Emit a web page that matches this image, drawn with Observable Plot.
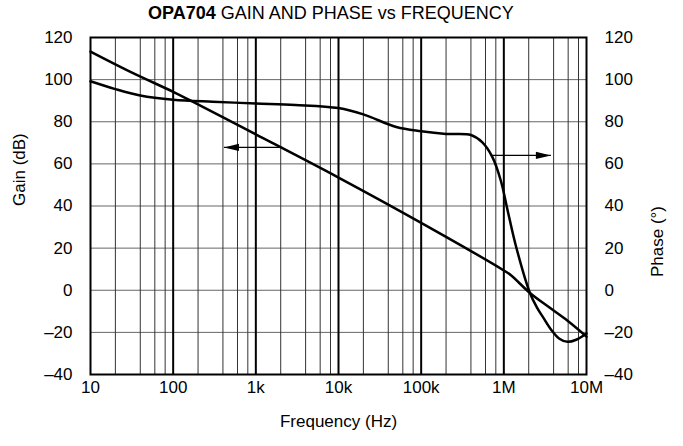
<!DOCTYPE html>
<html><head><meta charset="utf-8">
<script src="https://cdn.jsdelivr.net/npm/d3@7"></script>
<script src="https://cdn.jsdelivr.net/npm/@observablehq/plot@0.6"></script>
<style>
body{margin:0;background:#fff;font-family:"Liberation Sans",Arial,Helvetica,sans-serif;}
#title{height:24px;padding-top:1px;line-height:24px;font-size:18px;text-align:center;width:662px;color:#000;}
#chart svg{display:block;}
</style></head><body>
<div id="title"><b>OPA704</b> GAIN AND PHASE vs FREQUENCY</div>
<div id="chart"></div>
<script>
// Tick positions and labels
const decades = [10, 100, 1e3, 1e4, 1e5, 1e6, 1e7];
const decadeLabels = ["10", "100", "1k", "10k", "100k", "1M", "10M"];
const minorSteps = [2, 4, 6, 8];
const yTicks = [-40, -20, 0, 20, 40, 60, 80, 100, 120];

// Gain curve (dB)
const gainFreq = [10, 30, 100, 163, 1e3, 1e4, 1e5, 1e6, 1.22e6, 2.07e6, 3.5e6, 5.9e6, 1e7];
const gainDb   = [113.3, 103.8, 94.2, 90, 74, 53.5, 32, 9.4, 7.1, -1.3, -8, -14.5, -22];

// Phase curve (degrees)
const phaseFreq = [10, 20, 40, 100, 300, 1e3, 3e3, 1e4, 2e4, 5e4, 1e5, 2e5, 4e5, 5.5e5, 7.3e5, 9.2e5, 1.11e6, 1.4e6, 2.07e6, 2.5e6, 3e6, 3.7e6, 4.7e6, 5.9e6, 7.5e6, 1e7];
const phaseDeg  = [99.2, 95.5, 92.5, 90.5, 89.5, 88.7, 88, 86.5, 83.5, 77.5, 75.5, 74.2, 73.7, 70.2, 63.1, 52, 38, 21, -1.3, -8, -13, -18.5, -23, -24.5, -23.5, -20.5];

// Annotation arrows (frequency from -> to, value)
const arrows = [
  {from: 2.1e3, to: 411, value: 67.8},
  {from: 6.97e5, to: 3.71e6, value: 64}
];

const gain = gainFreq.map((f, i) => ({f, v: gainDb[i]}));
const phase = phaseFreq.map((f, i) => ({f, v: phaseDeg[i]}));
const minor = decades.slice(0, -1).flatMap(d => minorSteps.map(m => d * m));
const innerDecades = decades.slice(1, -1);

const arrowHead = {
  draw(ctx) {
    ctx.moveTo(0, 0);
    ctx.lineTo(-15, -3.6);
    ctx.lineTo(-15, 3.6);
    ctx.closePath();
  }
};

const font = "Liberation Sans, Arial, Helvetica, sans-serif";
const fs = 17;

const chart = Plot.plot({
  width: 683,
  height: 421,
  marginLeft: 90,
  marginRight: 97,
  marginTop: 12,
  marginBottom: 72,
  style: {fontFamily: font, fontSize: fs + "px", background: "#fff", color: "#000"},
  x: {type: "log", domain: [10, 1e7]},
  y: {domain: [-40, 120]},
  marks: [
    Plot.ruleY(yTicks, {stroke: "#666", strokeWidth: 1}),
    Plot.ruleX(minor, {stroke: "#333", strokeWidth: 1}),
    Plot.ruleX(innerDecades, {stroke: "#000", strokeWidth: 2}),
    Plot.frame({stroke: "#000", strokeWidth: 2}),
    Plot.axisX(decades, {anchor: "bottom", tickSize: 0, tickPadding: 6, fontSize: fs, label: null,
      tickFormat: d => decadeLabels[decades.indexOf(d)]}),
    Plot.axisY(yTicks, {anchor: "left", tickSize: 0, tickPadding: 18, fontSize: fs, label: null,
      tickFormat: d => d < 0 ? "\u2013" + (-d) : String(d)}),
    Plot.axisY(yTicks, {anchor: "right", tickSize: 0, tickPadding: 18, fontSize: fs, label: null,
      tickFormat: d => d < 0 ? "\u2013" + (-d) : String(d)}),
    Plot.line(gain, {x: "f", y: "v", stroke: "#000", strokeWidth: 2.5, curve: "catmull-rom"}),
    Plot.line(phase, {x: "f", y: "v", stroke: "#000", strokeWidth: 2.5, curve: "catmull-rom"}),
    Plot.link(arrows, {x1: "from", x2: "to", y1: "value", y2: "value", stroke: "#000", strokeWidth: 1.3}),
    Plot.dot(arrows, {x: "to", y: "value", symbol: arrowHead, r: 5, fill: "#000", stroke: "none",
      rotate: d => d.to < d.from ? 180 : 0}),
    Plot.text(["Gain (dB)"], {frameAnchor: "left", dx: -70.5, rotate: -90, fontSize: fs, lineAnchor: "middle"}),
    Plot.text(["Phase (\u00b0)"], {frameAnchor: "right", dx: 71, rotate: -90, fontSize: fs, lineAnchor: "middle"}),
    Plot.text(["Frequency (Hz)"], {frameAnchor: "bottom", dy: 40, fontSize: fs, lineAnchor: "top"})
  ]
});
document.getElementById("chart").appendChild(chart);
</script>
</body></html>
